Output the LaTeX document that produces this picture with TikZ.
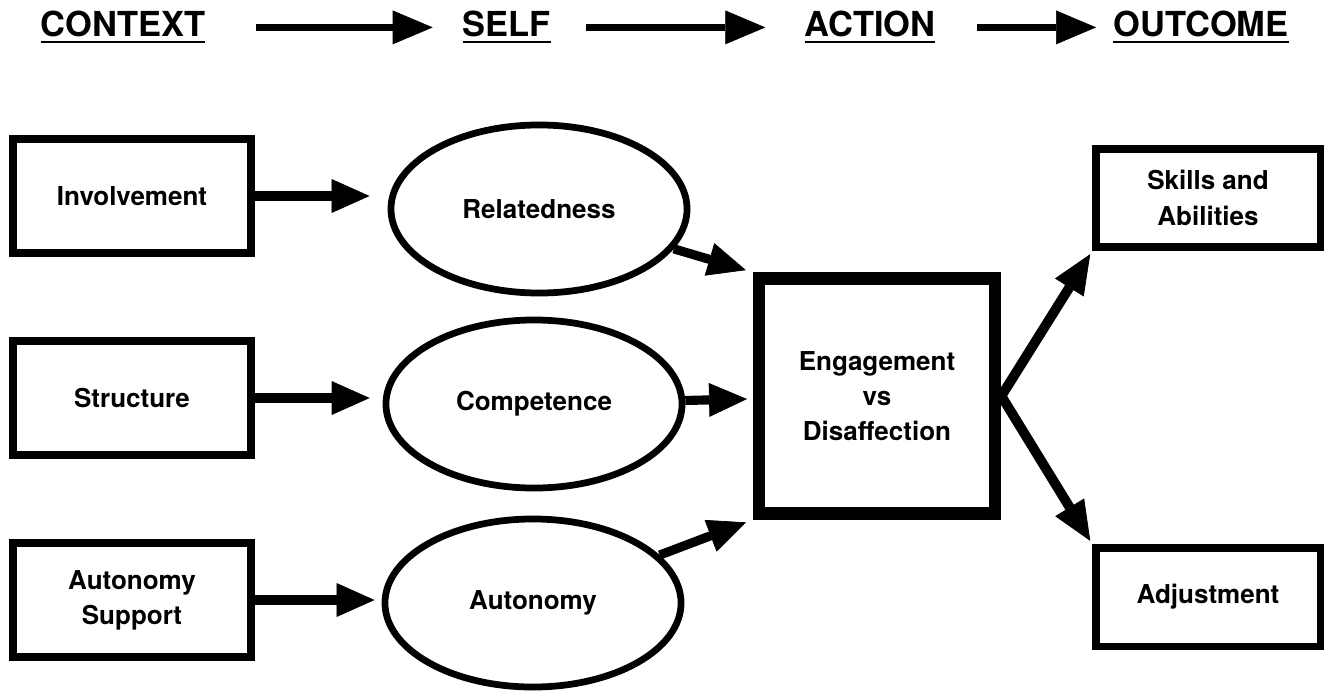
\documentclass[tikz,border=0pt]{standalone}
\usepackage{fontspec}
\setmainfont{TeX Gyre Heros}
\usetikzlibrary{shapes.geometric, arrows.meta}

\newcommand{\ulword}[1]{\sbox0{#1}\rlap{\rule[-4.5pt]{\wd0}{2pt}}\usebox0}

\begin{document}
\begin{tikzpicture}[
            x=0.025cm, y=-0.025cm,
            head/.style={inner sep=0pt, anchor=base, font={\bfseries\fontsize{24.5}{29}\selectfont}},
            box/.style={draw, line width=5.5pt, inner sep=0pt, minimum width=5.95cm, minimum height=2.85cm,
                align=center, font={\bfseries\fontsize{18.5}{25}\selectfont}},
            oval/.style={draw, ellipse, line width=4.8pt, inner sep=0pt, minimum width=7.4cm, minimum height=4.2cm,
                font={\bfseries\fontsize{18.5}{25}\selectfont}},
            bigbox/.style={box, line width=9pt, minimum width=5.9cm, minimum height=5.875cm},
            outbox/.style={box, line width=5pt, minimum width=5.6cm, minimum height=2.45cm},
            toparr/.style={line width=5pt, -{Triangle[length=28.5pt, width=24pt, line width=0.5pt]}},
            arr/.style={line width=6.5pt, -{Triangle[length=27pt, width=24pt, line width=0.5pt]}},
            outarr/.style={line width=7pt, -{Triangle[length=28pt, width=24pt, line width=0.5pt]}}
        ]
            \useasboundingbox (0,0) rectangle (1332,696);

            \node[head] (context) at (123,37) {\ulword{CONTEXT}};
            \node[head] (self) at (507,37) {\ulword{SELF}};
            \node[head] (action) at (870,37) {\ulword{ACTION}};
            \node[head] (outcome) at (1201,37) {\ulword{OUTCOME}};

            \draw[toparr, shorten <=35.6pt, shorten >=21.3pt] (context) -- (self);
            \draw[toparr, shorten <=24.9pt, shorten >=27.7pt] (self) -- (action);
            \draw[toparr, shorten <=29.2pt, shorten >=12.1pt] (action) -- (outcome);

            \node[box] (inv) at (132,196) {Involvement};
            \node[box] (str) at (132,398) {Structure};
            \node[box] (aus) at (132,600) {Autonomy\\Support};

            \node[oval] (rel) at (539,209) {Relatedness};
            \node[oval] (com) at (534,404) {Competence};
            \node[oval] (aut) at (533,603) {Autonomy};

            \node[bigbox] (eng) at (877,396) {Engagement\\vs\\Disaffection};

            \node[outbox] (ski) at (1208,198) {Skills and\\Abilities};
            \node[outbox] (adj) at (1208,597) {Adjustment};

            \draw[arr, shorten >=12.8pt] (inv.east) -- (inv.east -| rel.west);
            \draw[arr, shorten >=9.2pt] (str.east) -- (str.east -| com.west);
            \draw[arr, shorten >=5pt] (aus.east) -- (aus.east -| aut.west);

            \draw[arr, shorten >=5pt] (rel) -- (eng.north west);
            \draw[arr, shorten >=4pt] (com) -- (eng);
            \draw[arr, shorten >=5pt] (aut) -- (eng.south west);

            \draw[outarr, shorten >=3pt] (eng.east) -- (ski.south west);
            \draw[outarr, shorten >=3pt] (eng.east) -- (adj.north west);
        \end{tikzpicture}
\end{document}
